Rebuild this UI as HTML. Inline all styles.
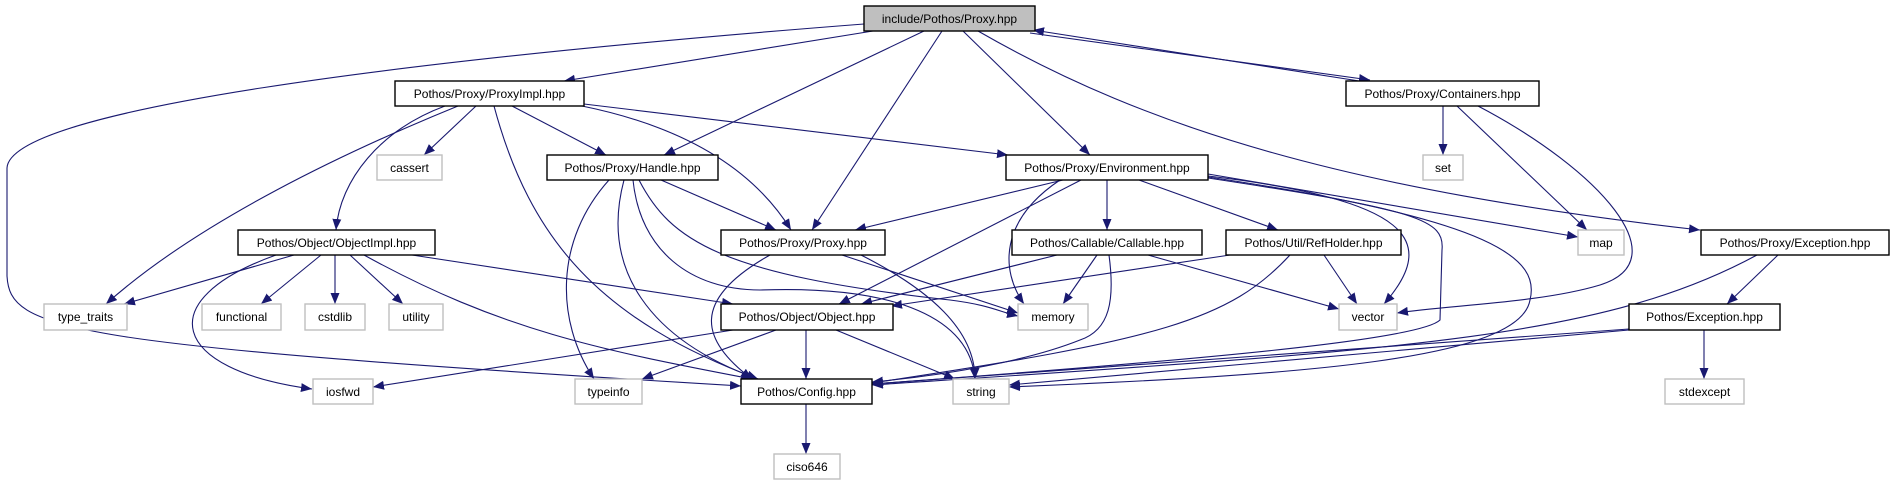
<!DOCTYPE html>
<html><head><meta charset="utf-8"><style>
html,body{margin:0;padding:0;background:#fff;}
svg{display:block;}
text{font-family:"Liberation Sans",Arial,sans-serif;font-size:12px;text-anchor:middle;fill:#000;}
.n{fill:#fff;stroke:#000;stroke-width:1.4;}
.x{fill:#fff;stroke:#bfbfbf;stroke-width:1.4;}
.e{fill:none;stroke:#191970;stroke-width:1.1;marker-end:url(#a);}
</style></head><body>
<svg width="1895" height="485" viewBox="0 0 1895 485" xmlns="http://www.w3.org/2000/svg">
<defs><marker id="a" markerUnits="userSpaceOnUse" markerWidth="12" markerHeight="10" refX="11" refY="4.5" orient="auto"><path d="M0,0 L11,4.5 L0,9 z" fill="#191970"/></marker></defs>
<g>
<!-- from top -->
<path class="e" d="M864,24 C400,60 10,110 7,168 L7,276 C10,330 60,345 741,386"/>
<path class="e" d="M873,31 L564,81"/>
<path class="e" d="M924,31 L664,155"/>
<path class="e" d="M942,31 L812,230"/>
<path class="e" d="M963,31 L1090,155"/>
<path class="e" d="M978,31 C1150,130 1350,190 1700,230"/>
<path class="e" d="M1030,33 L1370,80"/>
<path class="e" d="M1372,83 L1033,30"/>
<!-- ProxyImpl -->
<path class="e" d="M458,106 C350,150 200,220 106,304"/>
<path class="e" d="M445,106 C380,130 340,180 336,230"/>
<path class="e" d="M476,106 L424,155"/>
<path class="e" d="M494,106 C530,240 600,320 758,379"/>
<path class="e" d="M512,106 L606,155"/>
<path class="e" d="M582,106 C700,130 760,180 791,230"/>
<path class="e" d="M584,104 L1008,155"/>
<!-- Handle -->
<path class="e" d="M609,180 C555,240 555,320 594,379"/>
<path class="e" d="M624,180 C600,270 650,340 758,379"/>
<path class="e" d="M661,180 L776,230"/>
<path class="e" d="M639,180 C670,240 720,275 950,300 C990,305 1000,312 1018,316"/>
<path class="e" d="M633,180 C640,250 690,290 760,290 C900,285 970,320 975,379"/>
<!-- Proxy.hpp -->
<path class="e" d="M770,255 C690,300 700,340 752,379"/>
<path class="e" d="M842,255 L1018,313"/>
<path class="e" d="M861,255 C930,290 975,330 975,379"/>
<!-- ObjectImpl -->
<path class="e" d="M294,255 L124,304"/>
<path class="e" d="M276,255 C150,300 170,370 312,389"/>
<path class="e" d="M321,255 L261,304"/>
<path class="e" d="M335,255 L335,304"/>
<path class="e" d="M350,255 L403,304"/>
<path class="e" d="M364,255 C500,330 600,350 752,379"/>
<path class="e" d="M412,255 L733,304"/>
<!-- Object -->
<path class="e" d="M733,330 L373,387"/>
<path class="e" d="M776,330 L642,379"/>
<path class="e" d="M806,330 L806,379"/>
<path class="e" d="M836,330 L955,379"/>
<!-- Config -->
<path class="e" d="M806,404 L806,454"/>
<!-- Environment -->
<path class="e" d="M1063,180 L855,230"/>
<path class="e" d="M1081,180 L839,304"/>
<path class="e" d="M1060,180 C1000,220 1000,270 1024,304"/>
<path class="e" d="M1107,180 L1107,230"/>
<path class="e" d="M1139,180 L1278,230"/>
<path class="e" d="M1208,176 C1410,200 1440,240 1384,304"/>
<path class="e" d="M1208,174 L1578,237"/>
<path class="e" d="M1208,178 C1420,210 1445,220 1442,250 L1440,320 C1420,340 1200,360 872,384"/>
<path class="e" d="M1208,177 C1500,220 1540,260 1530,300 C1520,360 1300,375 1009,387"/>
<!-- Callable -->
<path class="e" d="M1057,255 L861,304"/>
<path class="e" d="M1097,255 L1063,304"/>
<path class="e" d="M1109,255 C1115,300 1110,330 1080,340 C1030,360 950,375 872,382"/>
<path class="e" d="M1148,255 L1339,309"/>
<!-- RefHolder -->
<path class="e" d="M1230,255 L891,306"/>
<path class="e" d="M1290,255 C1230,320 1160,340 872,383"/>
<path class="e" d="M1324,255 L1357,304"/>
<!-- Containers -->
<path class="e" d="M1443,106 L1443,155"/>
<path class="e" d="M1457,106 L1587,230"/>
<path class="e" d="M1478,106 C1600,170 1680,260 1600,285 C1540,303 1450,305 1397,313"/>
<!-- Proxy/Exception -->
<path class="e" d="M1778,255 L1727,304"/>
<path class="e" d="M1757,255 C1600,340 1400,350 872,385"/>
<!-- Exception.hpp -->
<path class="e" d="M1704,330 L1704,379"/>
<path class="e" d="M1629,329 L872,384"/>
<path class="e" d="M1629,330 L1009,385"/>
</g>
<g>
<rect x="864" y="6" width="171" height="25" fill="#bfbfbf" stroke="#000" stroke-width="1.4"/><text x="949.5" y="23">include/Pothos/Proxy.hpp</text>
<rect class="n" x="395" y="81" width="189" height="25"/><text x="489.5" y="98">Pothos/Proxy/ProxyImpl.hpp</text>
<rect class="n" x="1346" y="81" width="193" height="25"/><text x="1442.5" y="98">Pothos/Proxy/Containers.hpp</text>
<rect class="x" x="377" y="155" width="65" height="25"/><text x="409.5" y="172">cassert</text>
<rect class="n" x="547" y="155" width="171" height="25"/><text x="632.5" y="172">Pothos/Proxy/Handle.hpp</text>
<rect class="n" x="1006" y="155" width="202" height="25"/><text x="1107" y="172">Pothos/Proxy/Environment.hpp</text>
<rect class="x" x="1423" y="155" width="40" height="25"/><text x="1443" y="172">set</text>
<rect class="n" x="238" y="230" width="197" height="25"/><text x="336.5" y="247">Pothos/Object/ObjectImpl.hpp</text>
<rect class="n" x="721" y="230" width="164" height="25"/><text x="803" y="247">Pothos/Proxy/Proxy.hpp</text>
<rect class="n" x="1012" y="230" width="190" height="25"/><text x="1107" y="247">Pothos/Callable/Callable.hpp</text>
<rect class="n" x="1226" y="230" width="175" height="25"/><text x="1313.5" y="247">Pothos/Util/RefHolder.hpp</text>
<rect class="x" x="1578" y="230" width="46" height="25"/><text x="1601" y="247">map</text>
<rect class="n" x="1701" y="230" width="188" height="25"/><text x="1795" y="247">Pothos/Proxy/Exception.hpp</text>
<rect class="x" x="44" y="304" width="83" height="26"/><text x="85.5" y="321">type_traits</text>
<rect class="x" x="202" y="304" width="79" height="26"/><text x="241.5" y="321">functional</text>
<rect class="x" x="305" y="304" width="60" height="26"/><text x="335" y="321">cstdlib</text>
<rect class="x" x="389" y="304" width="54" height="26"/><text x="416" y="321">utility</text>
<rect class="n" x="721" y="304" width="172" height="26"/><text x="807" y="321">Pothos/Object/Object.hpp</text>
<rect class="x" x="1018" y="304" width="70" height="26"/><text x="1053" y="321">memory</text>
<rect class="x" x="1339" y="304" width="58" height="26"/><text x="1368" y="321">vector</text>
<rect class="n" x="1629" y="304" width="151" height="26"/><text x="1704.5" y="321">Pothos/Exception.hpp</text>
<rect class="x" x="313" y="379" width="60" height="25"/><text x="343" y="396">iosfwd</text>
<rect class="x" x="575" y="379" width="67" height="25"/><text x="608.5" y="396">typeinfo</text>
<rect class="n" x="741" y="379" width="131" height="25"/><text x="806.5" y="396">Pothos/Config.hpp</text>
<rect class="x" x="953" y="379" width="56" height="25"/><text x="981" y="396">string</text>
<rect class="x" x="1665" y="379" width="79" height="25"/><text x="1704.5" y="396">stdexcept</text>
<rect class="x" x="774" y="454" width="66" height="25"/><text x="807" y="471">ciso646</text>
</g>
</svg>
</body></html>
